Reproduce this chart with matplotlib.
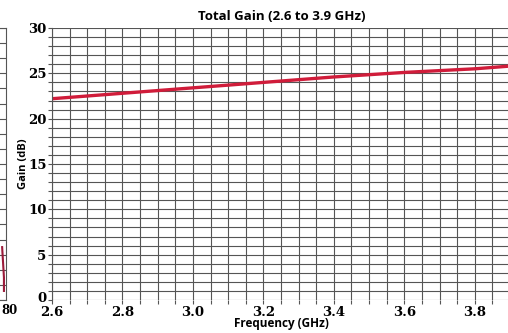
import matplotlib.pyplot as plt
import matplotlib.transforms as mtransforms
import numpy as np

# Data
freq = [2.6, 2.8, 3.0, 3.2, 3.4, 3.6, 3.8, 3.9]
gain = [22.2, 22.8, 23.4, 24.0, 24.6, 25.1, 25.5, 25.8]
xticks = [2.6, 2.8, 3.0, 3.2, 3.4, 3.6, 3.8]
yticks = [0, 5, 10, 15, 20, 25, 30]

W, H = 508, 333
fig = plt.figure(figsize=(W / 100, H / 100), dpi=100)
fig.patch.set_facecolor('white')

grid_col = '#555555'
tick_font = dict(family='DejaVu Serif', weight='bold', size=9.5)

# main axes (right part of the plot runs off the image)
left, right, top, bottom = 52, 510, 28, 300
ax = fig.add_axes([left / W, 1 - bottom / H, (right - left) / W, (bottom - top) / H])
ax.set_xlim(2.6, 3.9)
ax.set_ylim(0, 30)
ax.set_xticks(xticks)
ax.set_yticks(yticks)
ax.set_xticks(np.arange(2.6, 3.9001, 0.05), minor=True)
ax.set_yticks(np.arange(0, 30.01, 1), minor=True)
ax.grid(which='both', color=grid_col, linewidth=0.8)
ax.set_axisbelow(True)
ax.tick_params(which='both', length=3, color=grid_col, width=0.8, pad=1)
ax.set_xticklabels([f'{v:.1f}' for v in xticks], **tick_font)
ax.set_yticklabels([str(v) for v in yticks], **tick_font)
# the "0" sits a little higher in the original
zero = ax.get_yticklabels()[0]
zero.set_transform(zero.get_transform() +
                   mtransforms.ScaledTranslation(0, 3 / 100, fig.dpi_scale_trans))
for s in ax.spines.values():
    s.set_visible(False)
ax.spines['left'].set_visible(True)
ax.spines['left'].set_color(grid_col)

ax.plot(freq, gain, color='#d01c3a', linewidth=2.4)

ax.set_title('Total Gain (2.6 to 3.9 GHz)', fontsize=9.5, fontweight='bold',
             family='Open Sans', pad=6, x=(282 - left) / (right - left))
ax.set_xlabel('Frequency (GHz)', fontsize=8.5, fontweight='bold', family='Open Sans', labelpad=-1)
ax.set_ylabel('Gain (dB)', fontsize=8, fontweight='bold', family='Open Sans', labelpad=-1)

# remnant of the neighbouring chart on the left edge
ax2 = fig.add_axes([-200 / W, 1 - bottom / H, 206 / W, (bottom - top) / H])
ax2.set_xlim(0, 80)
ax2.set_ylim(0, 18)
ax2.set_yticks(np.arange(0, 18.1, 1))
ax2.set_xticks([])
ax2.set_yticklabels([])
ax2.grid(axis='y', color=grid_col, linewidth=0.8)
ax2.tick_params(length=0)
for s in ax2.spines.values():
    s.set_color(grid_col)
ax2.plot([78.5, 79.2, 79.2], [3.5, 1.5, 0.6], color='#9b1b3a', linewidth=1.5)
fig.text(1 / W, 1 - 310 / H, '80', ha='left', va='center',
         family='DejaVu Serif', weight='bold', size=8.5)

fig.savefig('out.png', dpi=100, facecolor='white')
